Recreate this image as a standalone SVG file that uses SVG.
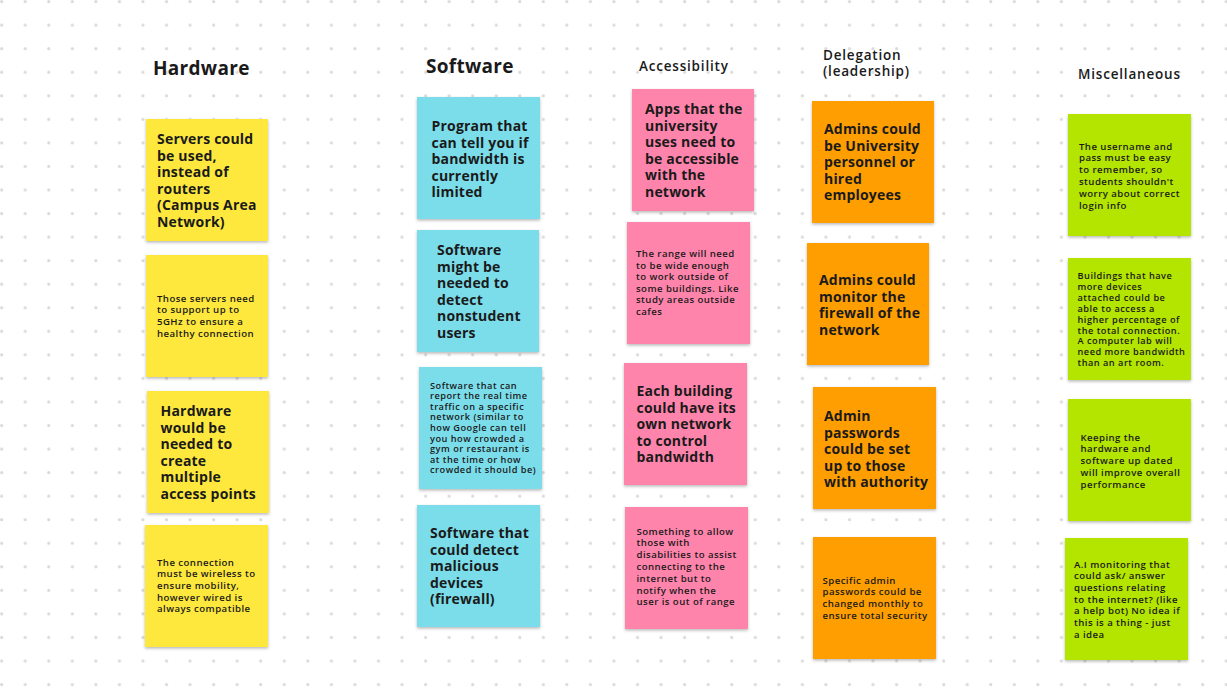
<svg xmlns="http://www.w3.org/2000/svg" width="1227" height="690" viewBox="0 0 1227 690">
  <defs>
    <pattern id="dots" x="0" y="0" width="23.55" height="23.55" patternUnits="userSpaceOnUse">
      <circle cx="1.7" cy="1.7" r="1.6" fill="#dadada"/>
    </pattern>
    <filter id="shadow" x="-10%" y="-10%" width="120%" height="125%">
      <feDropShadow dx="0" dy="1.5" stdDeviation="1.4" flood-color="#000" flood-opacity="0.28"/>
    </filter>
  </defs>
  <style>
    text { font-family: "Open Sans", "DejaVu Sans", sans-serif; fill: #1a1a1a; }
    .hd { font-size: 19px; font-weight: 700; letter-spacing: 0.3px; }
    .hs { font-size: 13.5px; font-weight: 600; letter-spacing: 0.8px; }
    .big { font-size: 14px; font-weight: 700; letter-spacing: 0.2px; }
    .sm { font-size: 9.6px; font-weight: 600; letter-spacing: 0.45px; }
    .xs { font-size: 9.2px; font-weight: 600; letter-spacing: 0.5px; }
    .note { filter: url(#shadow); }
    .yellow { fill: #FEE83E; }
    .cyan { fill: #7CDDEA; }
    .pink { fill: #FF84AC; }
    .orange { fill: #FF9E02; }
    .green { fill: #B3E501; }
  </style>

  <!-- board background with dot grid -->
  <rect width="1227" height="690" fill="#ffffff"/>
  <rect width="1227" height="690" fill="url(#dots)"/>

  <!-- column headings -->
  <g id="headings">
    <text class="hd" x="153" y="75">Hardware</text>
    <text class="hd" x="426" y="73">Software</text>
    <text class="hs" x="639" y="71">Accessibility</text>
    <text class="hs" x="823" y="60">Delegation</text>
    <text class="hs" x="823" y="76">(leadership)</text>
    <text class="hs" x="1078" y="79">Miscellaneous</text>
  </g>

  <!-- Hardware column -->
  <g id="hw1">
    <rect class="note yellow" x="146" y="119" width="122" height="122"/>
    <text class="big"><tspan x="157" y="144">Servers could</tspan><tspan x="157" y="160.5">be used,</tspan><tspan x="157" y="177">instead of</tspan><tspan x="157" y="193.5">routers</tspan><tspan x="157" y="210">(Campus Area</tspan><tspan x="157" y="226.5">Network)</tspan></text>
  </g>
  <g id="hw2">
    <rect class="note yellow" x="146" y="255" width="122" height="122"/>
    <text class="sm"><tspan x="157" y="301.5">Those servers need</tspan><tspan x="157" y="313.2">to support up to</tspan><tspan x="157" y="324.9">5GHz to ensure a</tspan><tspan x="157" y="336.6">healthy connection</tspan></text>
  </g>
  <g id="hw3">
    <rect class="note yellow" x="147" y="391" width="122" height="122"/>
    <text class="big"><tspan x="160.5" y="416">Hardware</tspan><tspan x="160.5" y="432.5">would be</tspan><tspan x="160.5" y="449">needed to</tspan><tspan x="160.5" y="465.5">create</tspan><tspan x="160.5" y="482">multiple</tspan><tspan x="160.5" y="498.5">access points</tspan></text>
  </g>
  <g id="hw4">
    <rect class="note yellow" x="145" y="525" width="123" height="122"/>
    <text class="sm"><tspan x="157" y="565.5">The connection</tspan><tspan x="157" y="577.2">must be wireless to</tspan><tspan x="157" y="588.9">ensure mobility,</tspan><tspan x="157" y="600.6">however wired is</tspan><tspan x="157" y="612.3">always compatible</tspan></text>
  </g>

  <!-- Software column -->
  <g id="sw1">
    <rect class="note cyan" x="417" y="97" width="123" height="122"/>
    <text class="big"><tspan x="431.5" y="131">Program that</tspan><tspan x="431.5" y="147.5">can tell you if</tspan><tspan x="431.5" y="164">bandwidth is</tspan><tspan x="431.5" y="180.5">currently</tspan><tspan x="431.5" y="197">limited</tspan></text>
  </g>
  <g id="sw2">
    <rect class="note cyan" x="417" y="230" width="122" height="122"/>
    <text class="big"><tspan x="437" y="255">Software</tspan><tspan x="437" y="271.5">might be</tspan><tspan x="437" y="288">needed to</tspan><tspan x="437" y="304.5">detect</tspan><tspan x="437" y="321">nonstudent</tspan><tspan x="437" y="337.5">users</tspan></text>
  </g>
  <g id="sw3">
    <rect class="note cyan" x="419" y="367" width="123" height="122"/>
    <text class="xs"><tspan x="430" y="388.5">Software that can</tspan><tspan x="430" y="399.1">report the real time</tspan><tspan x="430" y="409.7">traffic on a specific</tspan><tspan x="430" y="420.3">network (similar to</tspan><tspan x="430" y="430.9">how Google can tell</tspan><tspan x="430" y="441.5">you how crowded a</tspan><tspan x="430" y="452.1">gym or restaurant is</tspan><tspan x="430" y="462.7">at the time or how</tspan><tspan x="430" y="473.3">crowded it should be)</tspan></text>
  </g>
  <g id="sw4">
    <rect class="note cyan" x="417" y="505" width="123" height="122"/>
    <text class="big"><tspan x="430" y="538">Software that</tspan><tspan x="430" y="554.5">could detect</tspan><tspan x="430" y="571">malicious</tspan><tspan x="430" y="587.5">devices</tspan><tspan x="430" y="604">(firewall)</tspan></text>
  </g>

  <!-- Accessibility column -->
  <g id="ac1">
    <rect class="note pink" x="632" y="89" width="122" height="122"/>
    <text class="big"><tspan x="645" y="114">Apps that the</tspan><tspan x="645" y="130.5">university</tspan><tspan x="645" y="147">uses need to</tspan><tspan x="645" y="163.5">be accessible</tspan><tspan x="645" y="180">with the</tspan><tspan x="645" y="196.5">network</tspan></text>
  </g>
  <g id="ac2">
    <rect class="note pink" x="627" y="222" width="123" height="122"/>
    <text class="sm"><tspan x="636" y="257">The range will need</tspan><tspan x="636" y="268.5">to be wide enough</tspan><tspan x="636" y="280">to work outside of</tspan><tspan x="636" y="291.5">some buildings. Like</tspan><tspan x="636" y="303">study areas outside</tspan><tspan x="636" y="314.5">cafes</tspan></text>
  </g>
  <g id="ac3">
    <rect class="note pink" x="624" y="363" width="123" height="122"/>
    <text class="big"><tspan x="636.5" y="396">Each building</tspan><tspan x="636.5" y="412.5">could have its</tspan><tspan x="636.5" y="429">own network</tspan><tspan x="636.5" y="445.5">to control</tspan><tspan x="636.5" y="462">bandwidth</tspan></text>
  </g>
  <g id="ac4">
    <rect class="note pink" x="625" y="507" width="123" height="122"/>
    <text class="sm"><tspan x="636.5" y="534.5">Something to allow</tspan><tspan x="636.5" y="546.3">those with</tspan><tspan x="636.5" y="558.1">disabilities to assist</tspan><tspan x="636.5" y="569.9">connecting to the</tspan><tspan x="636.5" y="581.7">internet but to</tspan><tspan x="636.5" y="593.5">notify when the</tspan><tspan x="636.5" y="605.3">user is out of range</tspan></text>
  </g>

  <!-- Delegation column -->
  <g id="dl1">
    <rect class="note orange" x="812" y="101" width="122" height="122"/>
    <text class="big"><tspan x="824" y="134">Admins could</tspan><tspan x="824" y="150.5">be University</tspan><tspan x="824" y="167">personnel or</tspan><tspan x="824" y="183.5">hired</tspan><tspan x="824" y="200">employees</tspan></text>
  </g>
  <g id="dl2">
    <rect class="note orange" x="807" y="243" width="122" height="122"/>
    <text class="big"><tspan x="819" y="285">Admins could</tspan><tspan x="819" y="301.5">monitor the</tspan><tspan x="819" y="318">firewall of the</tspan><tspan x="819" y="334.5">network</tspan></text>
  </g>
  <g id="dl3">
    <rect class="note orange" x="813" y="387" width="123" height="122"/>
    <text class="big"><tspan x="824" y="421">Admin</tspan><tspan x="824" y="437.5">passwords</tspan><tspan x="824" y="454">could be set</tspan><tspan x="824" y="470.5">up to those</tspan><tspan x="824" y="487">with authority</tspan></text>
  </g>
  <g id="dl4">
    <rect class="note orange" x="813" y="537" width="123" height="122"/>
    <text class="sm"><tspan x="822.5" y="583.5">Specific admin</tspan><tspan x="822.5" y="595.3">passwords could be</tspan><tspan x="822.5" y="607.1">changed monthly to</tspan><tspan x="822.5" y="618.9">ensure total security</tspan></text>
  </g>

  <!-- Miscellaneous column -->
  <g id="ms1">
    <rect class="note green" x="1068" y="114" width="123" height="122"/>
    <text class="sm"><tspan x="1079" y="149.5">The username and</tspan><tspan x="1079" y="161.3">pass must be easy</tspan><tspan x="1079" y="173.1">to remember, so</tspan><tspan x="1079" y="184.9">students shouldn't</tspan><tspan x="1079" y="196.7">worry about correct</tspan><tspan x="1079" y="208.5">login info</tspan></text>
  </g>
  <g id="ms2">
    <rect class="note green" x="1068" y="258" width="123" height="122"/>
    <text class="xs"><tspan x="1077.5" y="279">Buildings that have</tspan><tspan x="1077.5" y="289.9">more devices</tspan><tspan x="1077.5" y="300.8">attached could be</tspan><tspan x="1077.5" y="311.7">able to access a</tspan><tspan x="1077.5" y="322.6">higher percentage of</tspan><tspan x="1077.5" y="333.5">the total connection.</tspan><tspan x="1077.5" y="344.4">A computer lab will</tspan><tspan x="1077.5" y="355.3">need more bandwidth</tspan><tspan x="1077.5" y="366.2">than an art room.</tspan></text>
  </g>
  <g id="ms3">
    <rect class="note green" x="1068" y="399" width="123" height="122"/>
    <text class="sm"><tspan x="1080.5" y="440.5">Keeping the</tspan><tspan x="1080.5" y="452.3">hardware and</tspan><tspan x="1080.5" y="464.1">software up dated</tspan><tspan x="1080.5" y="475.9">will improve overall</tspan><tspan x="1080.5" y="487.7">performance</tspan></text>
  </g>
  <g id="ms4">
    <rect class="note green" x="1065" y="538" width="123" height="122"/>
    <text class="sm"><tspan x="1074" y="567.5">A.I monitoring that</tspan><tspan x="1074" y="579.2">could ask/ answer</tspan><tspan x="1074" y="590.9">questions relating</tspan><tspan x="1074" y="602.6">to the internet? (like</tspan><tspan x="1074" y="614.3">a help bot) No idea if</tspan><tspan x="1074" y="626">this is a thing - just</tspan><tspan x="1074" y="637.7">a idea</tspan></text>
  </g>
</svg>
